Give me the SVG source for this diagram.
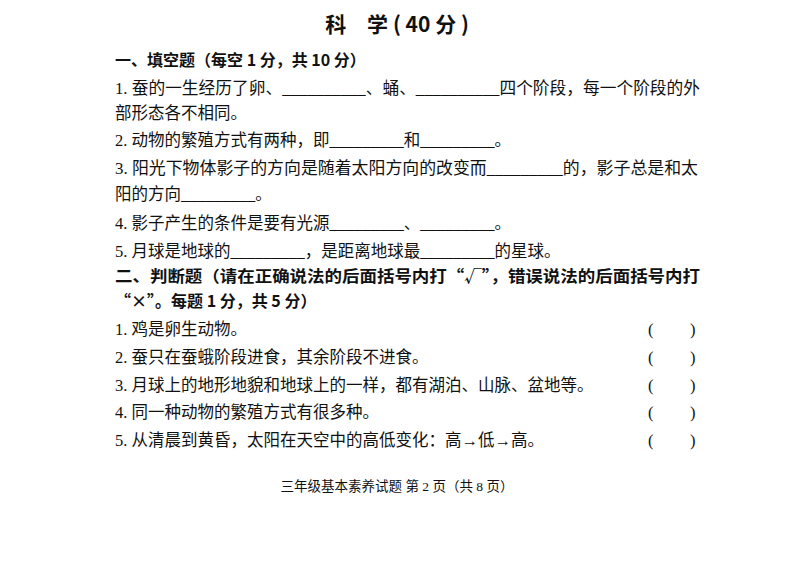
<svg xmlns="http://www.w3.org/2000/svg" width="794" height="561" viewBox="0 0 794 561">
<style>
text{font-family:"Liberation Serif","Noto Sans CJK SC",serif;fill:#111;font-size:16.5px}
.h{font-family:"Noto Sans CJK SC",sans-serif;font-weight:bold;font-size:16px}
.t{font-family:"Noto Sans CJK SC",sans-serif;font-weight:bold;font-size:21px}
.f{font-size:13.5px}
</style>
<rect width="794" height="561" fill="#fff"/>
<text class="t" x="397" y="32" text-anchor="middle">科　学 ( 40 分 )</text>
<text class="h" x="115" y="66">一、填空题（每空 1 分，共 10 分）</text>
<text x="115" y="94" textLength="585" lengthAdjust="spacingAndGlyphs">1. 蚕的一生经历了卵、__________、蛹、__________四个阶段，每一个阶段的外</text>
<text x="115" y="119">部形态各不相同。</text>
<text x="115" y="146">2. 动物的繁殖方式有两种，即_________和_________。</text>
<text x="115" y="174" textLength="583" lengthAdjust="spacingAndGlyphs">3. 阳光下物体影子的方向是随着太阳方向的改变而_________的，影子总是和太</text>
<text x="115" y="200">阳的方向_________。</text>
<text x="115" y="229">4. 影子产生的条件是要有光源_________、_________。</text>
<text x="115" y="257">5. 月球是地球的_________，是距离地球最_________的星球。</text>
<text class="h" x="115" y="282" textLength="585" lengthAdjust="spacingAndGlyphs">二、判断题（请在正确说法的后面括号内打“√”，错误说法的后面括号内打</text>
<text class="h" x="115" y="307">“×”。每题 1 分，共 5 分）</text>
<text x="115" y="335">1. 鸡是卵生动物。</text>
<text x="115" y="363">2. 蚕只在蚕蛾阶段进食，其余阶段不进食。</text>
<text x="115" y="391">3. 月球上的地形地貌和地球上的一样，都有湖泊、山脉、盆地等。</text>
<text x="115" y="418">4. 同一种动物的繁殖方式有很多种。</text>
<text x="115" y="446">5. 从清晨到黄昏，太阳在天空中的高低变化：高→低→高。</text>
<g>
<text x="648" y="335">(</text><text x="690" y="335">)</text>
<text x="648" y="363">(</text><text x="690" y="363">)</text>
<text x="648" y="391">(</text><text x="690" y="391">)</text>
<text x="648" y="418">(</text><text x="690" y="418">)</text>
<text x="648" y="446">(</text><text x="690" y="446">)</text>
</g>
<text class="f" x="397" y="491" text-anchor="middle">三年级基本素养试题  第 2 页（共 8 页）</text>
</svg>
